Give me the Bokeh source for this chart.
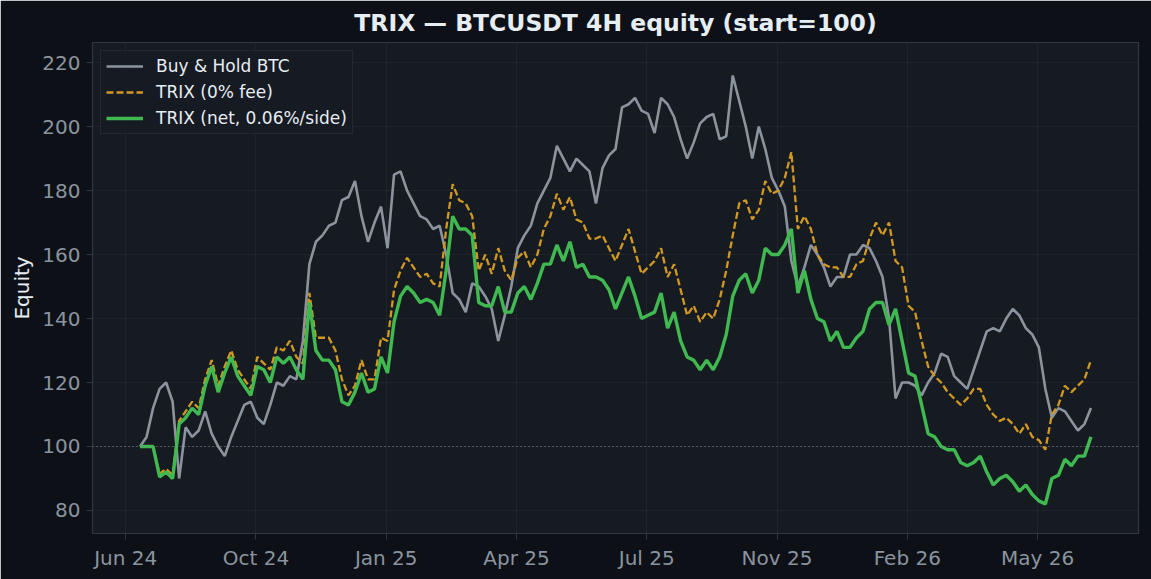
import numpy as np
import pandas as pd
from bokeh.plotting import figure
from bokeh.models import (Range1d, FixedTicker, DatetimeTickFormatter, Span,
                          ColumnDataSource, Legend, LegendItem)
from bokeh.embed import file_html
from bokeh.resources import INLINE

# --- data (one sample every 5 days, 4H equity curves) ---
start_date = "2024-07-07"
step_days = 5

bh_btc = [100, 103, 112, 118, 120, 114, 90, 106, 103, 105,
          111, 104, 100, 97, 103, 108, 113, 114, 109, 107,
          113, 120, 119, 122, 121, 133, 157, 164, 166, 169,
          170, 177, 178, 183, 172, 164, 170, 175, 162, 185,
          186, 180, 176, 172, 171, 168, 169, 160, 148, 146,
          142, 151, 150, 147, 143, 133, 141, 150, 162, 166,
          169, 176, 180, 184, 194, 190, 186, 190, 188, 186,
          176, 187, 191, 193, 206, 207, 209, 205, 204, 198,
          209, 207, 203, 196, 190, 195, 201, 203, 204, 196,
          197, 216, 208, 200, 190, 200, 193, 184, 180, 175,
          158, 150, 156, 163, 160, 156, 150, 153, 153, 160,
          160, 163, 162, 158, 153, 140, 115, 120, 120, 119,
          116, 120, 123, 129, 128, 122, 120, 118, 124, 130,
          136, 137, 136, 140, 143, 141, 137, 135, 131, 118,
          109, 112, 111, 108, 105, 107, 112]

trix_gross = [100, 100, 100, 91.5, 93, 91, 108, 111, 114, 112,
              121, 127, 119, 125, 130, 124, 121, 118, 128, 126,
              124, 131, 130, 133, 128, 126, 148, 134, 134, 134,
              130, 121, 116, 119, 127, 121, 121, 134, 133, 149,
              155, 159, 156, 153, 154, 151, 150, 168, 182, 177,
              176, 172, 155, 160, 154, 162, 155, 152, 159, 161,
              156, 160, 168, 172, 179, 174, 178, 171, 170, 165,
              165, 166, 162, 158, 163, 168, 161, 154, 156, 158,
              162, 153, 157, 149, 141, 144, 139, 142, 140, 146,
              155, 166, 176, 177, 171, 174, 183, 179, 180, 184,
              192, 168, 172, 168, 160, 157, 156, 156, 153, 153,
              157, 158, 165, 170, 166, 170, 158, 156, 144, 142,
              133, 125, 122, 120, 117, 115, 113, 115, 118, 118,
              113, 110, 108, 109, 107, 104, 107, 103, 102, 99,
              110, 113, 119, 117, 119, 121, 127]

trix_net = [100, 100, 100, 90.5, 92, 90, 107, 109, 112, 110,
            119, 125, 117, 123, 128, 122, 119, 116, 125, 124,
            120, 128, 126, 128, 124, 121, 145, 130, 127, 127,
            124, 114, 113, 117, 123, 117, 118, 128, 123, 139,
            147, 150, 148, 145, 146, 145, 141, 155, 172, 168,
            168, 166, 145, 144, 144, 150, 142, 142, 148, 150,
            146, 151, 157, 157, 163, 158, 164, 156, 157, 153,
            153, 152, 149, 143, 148, 153, 147, 140, 141, 142,
            148, 137, 142, 133, 128, 127, 124, 127, 124, 128,
            135, 147, 152, 154, 148, 152, 162, 160, 160, 163,
            168, 148, 155, 146, 140, 139, 133, 136, 131, 131,
            134, 136, 143, 145, 145, 138, 143, 133, 123, 122,
            113, 104, 103, 100, 99, 99, 95, 94, 95, 97,
            92, 88, 90, 91, 89, 86, 88, 85, 83, 82,
            90, 91, 96, 94, 97, 97, 103]

tick_dates = ["2024-06-26", "2024-10-04", "2025-01-12", "2025-04-22",
              "2025-07-31", "2025-11-08", "2026-02-16", "2026-05-27"]
y_ticks = [80, 100, 120, 140, 160, 180, 200, 220]

dates = pd.date_range(start_date, periods=len(bh_btc), freq=f"{step_days}D")
src = ColumnDataSource(dict(date=dates, bh=bh_btc, gross=trix_gross, net=trix_net))

span = dates[-1] - dates[0]
x0 = dates[0] - span * 0.05
x1 = dates[-1] + span * 0.05

BG = "#0d1117"
PANEL = "#161b22"
EDGE = "#30363d"
MUTED = "#8b949e"
TEXT = "#e6edf3"

p = figure(width=1151, height=579, x_axis_type="datetime",
           output_backend="svg", toolbar_location=None,
           title="TRIX — BTCUSDT 4H equity (start=100)",
           x_range=Range1d(x0, x1), y_range=Range1d(72.8, 226.3),
           min_border_left=92, min_border_right=13,
           min_border_top=42, min_border_bottom=46)

p.background_fill_color = PANEL
p.border_fill_color = BG
p.outline_line_color = EDGE
p.outline_line_width = 1.2

p.title.text_color = TEXT
p.title.text_font = "DejaVu Sans"
p.title.text_font_size = "23.5px"
p.title.text_font_style = "bold"
p.title.align = "center"
p.title.standoff = 11

tick_ms = [pd.Timestamp(d).value // 10**6 for d in tick_dates]
p.xaxis.ticker = FixedTicker(ticks=tick_ms)
fmt = "%b %y"
p.xaxis.formatter = DatetimeTickFormatter(days=fmt, months=fmt, years=fmt)
p.yaxis.ticker = FixedTicker(ticks=y_ticks)
p.yaxis.axis_label = "Equity"

for ax in (p.xaxis, p.yaxis):
    ax.axis_line_color = EDGE
    ax.major_tick_line_color = EDGE
    ax.major_tick_out = 6
    ax.major_tick_in = 0
    ax.minor_tick_line_color = None
    ax.major_label_text_color = MUTED
    ax.major_label_text_font = "DejaVu Sans"
    ax.major_label_text_font_size = "20px"
    ax.major_label_standoff = 6
    ax.axis_label_text_color = TEXT
    ax.axis_label_text_font = "DejaVu Sans"
    ax.axis_label_text_font_size = "20px"
    ax.axis_label_text_font_style = "normal"
p.yaxis.axis_label_standoff = 5

p.grid.grid_line_color = EDGE
p.grid.grid_line_alpha = 0.35

base = Span(location=100, dimension="width", line_color=MUTED,
            line_width=1.2, line_dash="1 3", line_alpha=0.9)
p.add_layout(base)

r_bh = p.line("date", "bh", source=src, line_color=MUTED, line_width=2.6)
r_gross = p.line("date", "gross", source=src, line_color="#d29922",
                 line_width=2.3, line_dash="7 3")
r_net = p.line("date", "net", source=src, line_color="#3fb950", line_width=3.4)

legend = Legend(items=[LegendItem(label="Buy & Hold BTC", renderers=[r_bh]),
                       LegendItem(label="TRIX (0% fee)", renderers=[r_gross]),
                       LegendItem(label="TRIX (net, 0.06%/side)", renderers=[r_net])],
                location="top_left")
legend.background_fill_color = PANEL
legend.background_fill_alpha = 0.9
legend.border_line_color = EDGE
legend.border_line_width = 1.2
legend.label_text_color = TEXT
legend.label_text_font = "DejaVu Sans"
legend.label_text_font_size = "17px"
legend.glyph_width = 37
legend.glyph_height = 20
legend.label_standoff = 13
legend.spacing = 6
legend.padding = 5
legend.margin = 8
p.add_layout(legend)

open("out.html", "w").write(file_html(p, INLINE))
